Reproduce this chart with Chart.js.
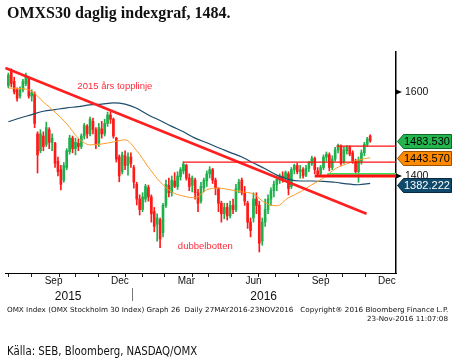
<!DOCTYPE html>
<html><head><meta charset="utf-8">
<script src="https://cdn.jsdelivr.net/npm/chart.js@4.4.1/dist/chart.umd.min.js"></script>
<style>
html,body{margin:0;padding:0;background:#fff;width:461px;height:359px;overflow:hidden}
#wrap{position:absolute;left:0;top:0;width:461px;height:359px}
.t{position:absolute;white-space:pre;color:#111;line-height:1}
#title{left:7px;top:4px;font:bold 16px "Liberation Serif","Times New Roman",serif;color:#111}
#f1{left:7px;top:306px;font:7px "DejaVu Sans Condensed","DejaVu Sans",sans-serif;transform-origin:0 0}
#f2{right:13px;top:315px;font:7px "DejaVu Sans Condensed","DejaVu Sans",sans-serif;transform-origin:100% 0}
#src{left:7px;top:343px;font:13px "Liberation Sans Narrow","Arial Narrow","DejaVu Sans Condensed",sans-serif;transform-origin:0 0}
</style></head>
<body>
<div id="wrap"><canvas id="c" width="461" height="359"></canvas></div>
<div id="title" class="t">OMXS30 daglig indexgraf, 1484.</div>
<div id="f1" class="t">OMX Index (OMX Stockholm 30 Index) Graph 26  Daily 27MAY2016-23NOV2016   Copyright® 2016 Bloomberg Finance L.P.</div>
<div id="f2" class="t">23-Nov-2016 11:07:08</div>
<div id="src" class="t">Källa: SEB, Bloomberg, NASDAQ/OMX</div>
<script>
// ---- DATA (days counted from 2015-07-01) ----
const FIRST_DAY = 15;   // first candle, 2015-07-16
const STEP_DAYS = 4;    // one candle per 4 calendar days
const opens  = [1615,1650,1625,1605,1590,1605,1620,1632,1590,1595,1500,1460,1495,1475,1510,1480,1478,1435,1415,1390,1420,1458,1490,1465,1478,1470,1495,1518,1500,1530,1510,1478,1512,1500,1525,1545,1535,1490,1445,1410,1448,1425,1445,1420,1380,1345,1320,1345,1372,1350,1315,1285,1295,1265,1330,1378,1360,1388,1375,1398,1412,1425,1395,1378,1390,1360,1340,1372,1388,1405,1415,1390,1370,1335,1310,1325,1305,1330,1320,1368,1390,1360,1335,1290,1300,1345,1330,1245,1290,1320,1345,1365,1380,1390,1400,1395,1405,1375,1415,1425,1410,1415,1402,1418,1430,1442,1412,1405,1420,1445,1450,1420,1440,1462,1470,1435,1460,1468,1455,1435,1410,1435,1455,1475,1495];
const highs  = [1645,1655,1635,1610,1612,1630,1645,1636,1605,1600,1505,1510,1505,1528,1515,1500,1480,1445,1425,1432,1465,1497,1495,1490,1488,1500,1525,1522,1540,1538,1515,1525,1530,1535,1552,1552,1538,1492,1450,1457,1460,1455,1455,1425,1385,1355,1360,1380,1378,1355,1325,1310,1300,1335,1390,1395,1400,1408,1410,1420,1433,1428,1405,1400,1395,1368,1385,1395,1412,1422,1418,1395,1372,1340,1335,1335,1340,1345,1380,1392,1395,1375,1340,1300,1360,1360,1340,1300,1345,1355,1372,1388,1398,1405,1410,1412,1410,1420,1428,1430,1425,1420,1425,1435,1447,1445,1420,1425,1450,1457,1455,1448,1468,1476,1474,1470,1472,1472,1460,1440,1445,1462,1480,1492,1498];
const lows   = [1610,1612,1595,1578,1585,1600,1615,1585,1578,1515,1407,1455,1460,1470,1465,1460,1420,1400,1367,1385,1415,1452,1455,1450,1460,1465,1488,1490,1495,1500,1465,1470,1490,1495,1518,1525,1490,1433,1386,1405,1415,1402,1420,1371,1331,1307,1315,1338,1340,1290,1267,1245,1229,1255,1325,1350,1352,1372,1368,1390,1405,1390,1365,1362,1345,1315,1335,1362,1375,1395,1382,1355,1315,1290,1298,1295,1300,1310,1315,1360,1355,1330,1275,1255,1290,1310,1219,1235,1280,1310,1330,1350,1365,1382,1385,1388,1355,1370,1405,1405,1395,1395,1398,1410,1425,1405,1400,1400,1415,1435,1412,1415,1435,1455,1425,1430,1452,1448,1430,1405,1385,1428,1448,1470,1480];
const closes = [1640,1620,1600,1585,1605,1625,1638,1590,1598,1525,1450,1500,1470,1515,1480,1490,1430,1410,1380,1425,1460,1490,1465,1480,1470,1495,1520,1500,1535,1510,1475,1515,1500,1525,1545,1535,1495,1440,1400,1450,1425,1445,1430,1385,1345,1320,1350,1375,1350,1310,1280,1300,1250,1330,1380,1360,1390,1375,1400,1415,1428,1395,1375,1395,1360,1335,1375,1390,1405,1415,1390,1372,1335,1310,1325,1305,1330,1320,1370,1385,1360,1340,1290,1270,1345,1330,1240,1290,1320,1345,1365,1380,1392,1400,1395,1408,1370,1415,1425,1410,1415,1400,1418,1432,1442,1415,1405,1420,1445,1452,1420,1440,1462,1472,1430,1462,1468,1452,1435,1410,1438,1455,1475,1488,1483.53];
// moving averages, one reading per 4th candle
const ma50  = [1609,1608,1602,1576,1552,1524,1490,1474,1476,1481,1486,1460,1421,1386,1362,1352,1348,1367,1371,1367,1362,1357,1336,1329,1348,1362,1379,1395,1417,1429,1438,1443.57];
const ma200 = [1529,1538,1546,1554,1558,1562,1565,1569,1571,1574,1571,1561,1545,1532,1518,1505,1490,1479,1467,1456,1445,1431,1417,1402,1392,1388,1388,1387,1385,1381,1379,1382.222];
// drawn lines
const topLineDays   = [11, 506];
const topLineValues = [1657, 1310];
const levelStartDays = [254, 465, 435, 452];
const levelValues    = [1433, 1471, 1400, 1405];
// axis
const monthStartDays = [31,62,92,123,153,184,215,244,275,305,336,366,397,428,458,489,519];
const monthLabelDays = [77,168,259,351,443,534];
const monthLabels    = ['Sep','Dec','Mar','Jun','Sep','Dec'];
const yearLabelDays  = [97,365];
const yearLabels     = ['2015','2016'];
const yearBreakDay   = 184;
const yTicks = [1400, 1600];
// notes & tags
const noteTexts  = ['2015 års topplinje','dubbelbotten'];
const noteDays   = [161, 285];
const noteValues = [1614, 1233];
const tagValues = [1483.530, 1443.570, 1382.222];
const tagLabels = ['1483.530','1443.570','1382.222'];

// ---- build ----
const X_MIN = 10.4, X_MAX = 546.4;
const TAG_SHIFT = [0, 0, 2];   // px nudge of the tags, as in the reference
const days = opens.map((_, i) => FIRST_DAY + STEP_DAYS * i);
const maDays = ma50.map((_, k) => days[k * 4]);
const GREEN = '#1fb04c', RED = '#ff1a1a';
const candleColor = c => closes[c.dataIndex] >= opens[c.dataIndex] ? GREEN : RED;

const wick = days.map((d, i) => ({x: d, y: [lows[i], highs[i]]}));
const body = days.map((d, i) => ({x: d, y: [Math.min(opens[i], closes[i]), Math.max(opens[i], closes[i])]}));

const lineDs = (data, color, width, order) => ({type: 'line', data, borderColor: color, borderWidth: width,
  pointRadius: 0, fill: false, order, cubicInterpolationMode: 'monotone'});

const datasets = [
  {type: 'bar', data: wick, backgroundColor: candleColor, barThickness: 1, grouped: false, order: 20},
  {type: 'bar', data: body, backgroundColor: candleColor, barThickness: 2, grouped: false, order: 19, minBarLength: 1},
  lineDs(maDays.map((d, k) => ({x: d, y: ma200[k]})), '#1d4c6c', 1.2, 5),
  lineDs(maDays.map((d, k) => ({x: d, y: ma50[k]})), '#ff9a26', 1, 4),
  lineDs(topLineDays.map((d, k) => ({x: d, y: topLineValues[k]})), '#ff1f1f', 2.6, 3),
  lineDs([{x: levelStartDays[0], y: levelValues[0]}, {x: X_MAX, y: levelValues[0]}], '#ff1010', 1.2, 2),
  lineDs([{x: levelStartDays[1], y: levelValues[1]}, {x: X_MAX, y: levelValues[1]}], '#ff1010', 1.2, 2),
  lineDs([{x: levelStartDays[3], y: levelValues[3]}, {x: X_MAX, y: levelValues[3]}], '#3ee05a', 1.6, 2),
  lineDs([{x: levelStartDays[2], y: levelValues[2]}, {x: X_MAX, y: levelValues[2]}], '#ff1010', 3, 1),
];

const annot = {
  id: 'annot',
  afterDatasetsDraw(chart) {
    const {ctx, scales: {x, y}} = chart;
    ctx.save();
    ctx.fillStyle = '#ff2a3a';
    ctx.font = '9.5px "Liberation Sans", Arial, sans-serif';
    ctx.textAlign = 'center'; ctx.textBaseline = 'middle';
    noteTexts.forEach((t, i) => ctx.fillText(t, x.getPixelForValue(noteDays[i]), y.getPixelForValue(noteValues[i])));
    ctx.restore();
  },
  afterDraw(chart) {
    const {ctx, scales: {x, y}, chartArea: ca} = chart;
    ctx.save();
    ctx.fillStyle = '#000';
    y.ticks.forEach(t => {
      const py = y.getPixelForValue(t.value);
      ctx.beginPath(); ctx.moveTo(ca.right, py - 2.5); ctx.lineTo(ca.right + 6, py); ctx.lineTo(ca.right, py + 2.5); ctx.closePath(); ctx.fill();
    });
    const bx = Math.round(x.getPixelForValue(yearBreakDay)) + 0.5;
    ctx.strokeStyle = '#777'; ctx.lineWidth = 1;
    ctx.beginPath(); ctx.moveTo(bx, ca.bottom + 15); ctx.lineTo(bx, ca.bottom + 28); ctx.stroke();
    const fills = ['#25b54e', '#ff8a00', '#0f4a6c'];
    const strokes = ['#0b6a26', '#9a5200', '#062a40'];
    const texts = ['#000', '#000', '#fff'];
    ctx.font = '11px "Liberation Sans", Arial, sans-serif';
    ctx.textBaseline = 'middle'; ctx.textAlign = 'left';
    tagValues.forEach((v, i) => {
      const yc = Math.round(y.getPixelForValue(v)) + 0.5 + TAG_SHIFT[i];
      const l = ca.right + 1.5, r = 451.5, h = 7;
      ctx.beginPath(); ctx.moveTo(l, yc); ctx.lineTo(l + 6, yc - h); ctx.lineTo(r, yc - h); ctx.lineTo(r, yc + h); ctx.lineTo(l + 6, yc + h); ctx.closePath();
      ctx.fillStyle = fills[i]; ctx.fill();
      ctx.strokeStyle = strokes[i]; ctx.lineWidth = 1; ctx.stroke();
      ctx.fillStyle = texts[i]; ctx.fillText(tagLabels[i], l + 6.5, yc + 0.5);
    });
    ctx.restore();
  }
};

const font10 = {family: '"Liberation Sans", Arial, sans-serif', size: 10};
new Chart(document.getElementById('c'), {
  type: 'bar',
  data: {datasets},
  plugins: [annot],
  options: {
    responsive: false, animation: false, events: [],
    layout: {padding: {left: 5, top: 52, right: 0, bottom: 0}, autoPadding: false},
    plugins: {legend: {display: false}, tooltip: {enabled: false}, title: {display: false}},
    scales: {
      x: {
        type: 'linear', position: 'bottom', min: X_MIN, max: X_MAX, offset: false, weight: 1,
        afterBuildTicks: s => { s.ticks = [...monthStartDays, ...monthLabelDays].sort((a, b) => a - b).map(v => ({value: v})); },
        afterFit: s => { s.height = 14; },
        grid: {drawOnChartArea: false, drawTicks: true, tickLength: 4, lineWidth: 1,
          color: c => (c.tick && monthStartDays.includes(c.tick.value)) ? '#222' : 'rgba(0,0,0,0)'},
        border: {display: true, color: '#000', width: 1},
        ticks: {autoSkip: false, maxRotation: 0, padding: -2, color: '#111', font: font10,
          callback: v => { const k = monthLabelDays.indexOf(v); return k >= 0 ? monthLabels[k] : ''; }}
      },
      x2: {
        type: 'linear', position: 'bottom', min: X_MIN, max: X_MAX, offset: false, weight: 2,
        afterBuildTicks: s => { s.ticks = yearLabelDays.map(v => ({value: v})); },
        afterFit: s => { s.height = 72; },
        grid: {display: false, drawTicks: false}, border: {display: false},
        ticks: {autoSkip: false, maxRotation: 0, padding: 2, color: '#111',
          font: {family: '"Liberation Sans", Arial, sans-serif', size: 12},
          callback: v => { const k = yearLabelDays.indexOf(v); return k >= 0 ? yearLabels[k] : ''; }}
      },
      y: {
        type: 'linear', position: 'right', min: 1169, max: 1695,
        afterBuildTicks: s => { s.ticks = yTicks.map(v => ({value: v})); },
        afterFit: s => { s.width = 65; },
        grid: {display: false, drawTicks: false},
        border: {display: true, color: '#000', width: 1.5},
        ticks: {padding: 9, color: '#111', font: {family: '"Liberation Sans", Arial, sans-serif', size: 10.5},
          callback: v => String(v)}
      }
    }
  }
});

function fit(id, w) { const el = document.getElementById(id); el.style.transform = 'scaleX(' + (w / el.offsetWidth) + ')'; }
fit('f1', 441); fit('f2', 81); fit('src', 190);
</script>
</body></html>
